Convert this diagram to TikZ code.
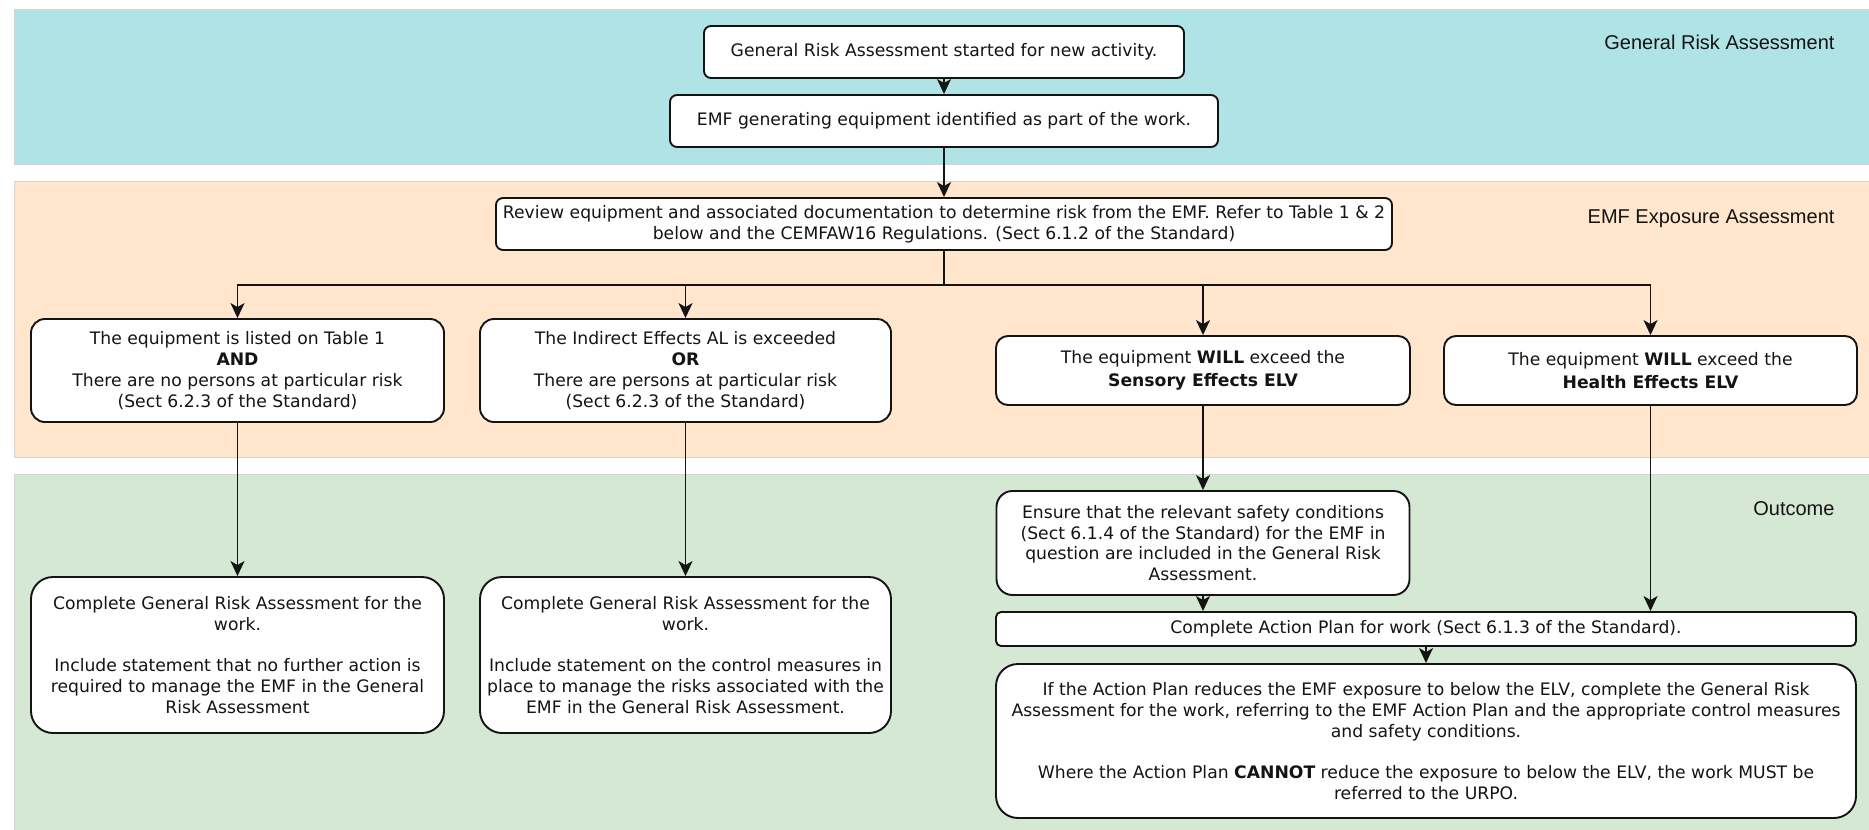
\documentclass[tikz,border=0pt]{standalone}
\usepackage{fontspec}
\setmainfont{DejaVu Sans}
\newfontfamily\lanefont{Liberation Sans}
\usetikzlibrary{arrows.meta, positioning, calc}
\definecolor{lanecyan}{HTML}{B0E3E6}
\definecolor{laneorange}{HTML}{FFE6CC}
\definecolor{lanegreen}{HTML}{D5E8D4}
\definecolor{laneedge}{HTML}{D4D4D4}
\definecolor{inkdark}{HTML}{141414}
\tikzset{
  flowbox/.style={draw=inkdark, line width=1.9pt, fill=white, align=center,
                  inner sep=2pt, text=inkdark},
  flow/.style={-{Stealth[length=15pt, width=14pt, inset=4pt]}, line width=1.8pt, draw=inkdark},
  lanelabel/.style={anchor=base east, font=\lanefont\fontsize{20}{24}\selectfont, text=inkdark}
}
\newcommand{\emfbox}[6]{%
  \node[flowbox, minimum width=#3pt, minimum height=#4pt, rounded corners=#5pt] (#1) at (#2) {#6};}

\begin{document}
\begin{tikzpicture}[x=1pt, y=-1pt, font=\fontsize{17.2}{20.8}\selectfont]
  \useasboundingbox (0,0) rectangle (1869,830);
  % lanes
  \draw[laneedge, fill=lanecyan] (14,9) rectangle (1875,164);
  \draw[laneedge, fill=laneorange] (14,181) rectangle (1875,457);
  \draw[laneedge, fill=lanegreen] (14,474) rectangle (1875,835);
  \node[lanelabel] (lgra) at (1838,49) {General Risk Assessment};
  \node[lanelabel] (lemf) at (1838,223) {EMF Exposure Assessment};
  \node[lanelabel] (lout) at (1838,515) {Outcome};

  % general risk assessment
  \emfbox{start}{944,52}{480}{52}{7}{General Risk Assessment started for new activity.}
  \emfbox{ident}{944,121}{548}{52}{7}{EMF generating equipment identified as part of the work.}

  % exposure assessment
  \emfbox{review}{944,224}{896}{52}{7}{Review equipment and associated documentation to determine risk from the EMF. Refer to Table 1 \& 2\\
    below and the CEMFAW16 Regulations. (Sect 6.1.2 of the Standard)}
  \coordinate (split) at (944,285);
  \emfbox{table}{237.5,370.5}{413}{103}{14}{The equipment is listed on Table 1\\ \textbf{AND}\\
    There are no persons at particular risk\\ (Sect 6.2.3 of the Standard)}
  \emfbox{indirect}{685.5,370.5}{411}{103}{14}{The Indirect Effects AL is exceeded\\ \textbf{OR}\\
    There are persons at particular risk\\ (Sect 6.2.3 of the Standard)}
  \emfbox{sensory}{1203,370.5}{414}{69}{12}{The equipment \textbf{WILL} exceed the\\[2pt] \textbf{Sensory Effects ELV}}
  \emfbox{health}{1650.5,370.5}{413}{69}{12}{The equipment \textbf{WILL} exceed the\\[2pt] \textbf{Health Effects ELV}}

  % outcome
  \emfbox{nofurther}{237.5,655}{413}{156}{22}{Complete General Risk Assessment for the\\ work.\\[20.8pt]
    Include statement that no further action is\\ required to manage the EMF in the General\\ Risk Assessment}
  \emfbox{controls}{685.5,655}{411}{156}{22}{Complete General Risk Assessment for the\\ work.\\[20.8pt]
    Include statement on the control measures in\\ place to manage the risks associated with the\\
    EMF in the General Risk Assessment.}
  \emfbox{safety}{1203,543}{413}{104}{16}{Ensure that the relevant safety conditions\\ (Sect 6.1.4 of the Standard) for the EMF in\\
    question are included in the General Risk\\ Assessment.}
  \emfbox{plan}{1426,629}{860}{34}{5}{Complete Action Plan for work (Sect 6.1.3 of the Standard).}
  \emfbox{urpo}{1426,741}{860}{154}{22}{If the Action Plan reduces the EMF exposure to below the ELV, complete the General Risk\\
    Assessment for the work, referring to the EMF Action Plan and the appropriate control measures\\
    and safety conditions.\\[20.8pt]
    Where the Action Plan \textbf{CANNOT} reduce the exposure to below the ELV, the work MUST be\\ referred to the URPO.}

  % connectors
  \draw[flow] (start) -- (ident);
  \draw[flow] (ident) -- (review);
  \draw[flow] (review.south) -- (split) -| (table.north);
  \draw[flow] (review.south) -- (split) -| (indirect.north);
  \draw[flow] (review.south) -- (split) -| (sensory.north);
  \draw[flow] (review.south) -- (split) -| (health.north);
  \draw[flow] (table) -- (nofurther);
  \draw[flow] (indirect) -- (controls);
  \draw[flow] (sensory) -- (safety);
  \draw[flow] (safety.south) -- (safety.south |- plan.north);
  \draw[flow] (health.south) -- (health.south |- plan.north);
  \draw[flow] (plan) -- (urpo);
\end{tikzpicture}
\end{document}
